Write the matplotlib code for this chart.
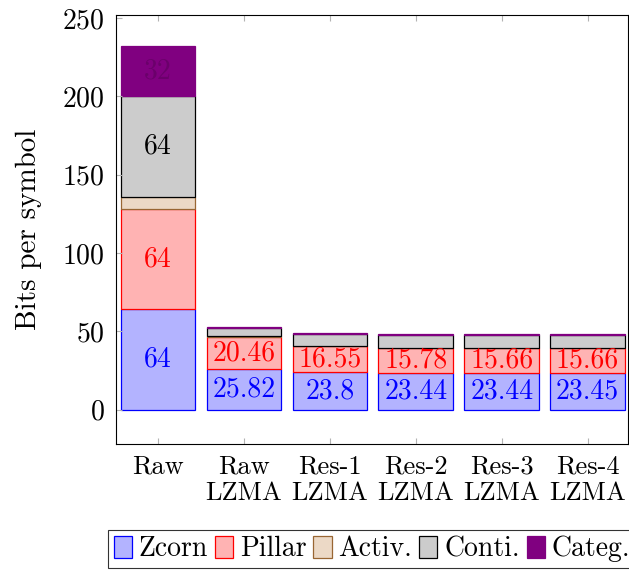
import numpy as np
import matplotlib
matplotlib.use("Agg")
import matplotlib.pyplot as plt

plt.rcParams['font.family'] = 'cmr10'
plt.rcParams['mathtext.fontset'] = 'cm'
plt.rcParams['axes.formatter.use_mathtext'] = True

# data
categories = ['Raw', 'Raw\nLZMA', 'Res-1\nLZMA', 'Res-2\nLZMA', 'Res-3\nLZMA', 'Res-4\nLZMA']
zcorn = [64, 25.82, 23.8, 23.44, 23.44, 23.45]
pillar = [64, 20.46, 16.55, 15.78, 15.66, 15.66]
activ = [8, 0.4, 0.2, 0.2, 0.2, 0.2]
conti = [64, 5.6, 7.8, 8.1, 8.1, 8.1]
categ = [32, 0.5, 0.6, 0.6, 0.6, 0.6]

series = [
    ('Zcorn', zcorn, (0.7, 0.7, 1.0), 'blue', 'blue', 'all'),
    ('Pillar', pillar, (1.0, 0.7, 0.7), 'red', 'red', 'all'),
    ('Activ.', activ, (0.925, 0.85, 0.775), (0.6, 0.4, 0.2), None, None),
    ('Conti.', conti, (0.8, 0.8, 0.8), 'black', 'black', 'first'),
    ('Categ.', categ, (0.5, 0.0, 0.5), (0.5, 0.0, 0.5), (0.42, 0.0, 0.42), 'first'),
]

fs = 20

fig = plt.figure(figsize=(6.29, 5.74), dpi=100)
ax = fig.add_axes([0.1844, 0.2265, 0.814, 0.7474])

x = np.arange(len(categories))
bottom = np.zeros(len(categories))
handles = []
for name, vals, face, edge, tcol, which in series:
    vals = np.array(vals, dtype=float)
    bars = ax.bar(x, vals, width=0.87, bottom=bottom, color=face, edgecolor=edge,
                  linewidth=0.9, label=name)
    handles.append(bars)
    if which is not None:
        for i in range(len(x)):
            if which == 'first' and i > 0:
                continue
            ax.text(x[i], bottom[i] + vals[i] / 2, f'{vals[i]:g}', ha='center', va='center',
                    color=tcol, fontsize=fs)
    bottom += vals

ax.set_xlim(-0.49, 5.47)
ax.set_ylim(-22, 252)
ax.set_yticks([0, 50, 100, 150, 200, 250])
ax.set_xticks(x)
ax.set_xticklabels(categories, fontsize=fs - 1, linespacing=1.15)
ax.tick_params(axis='y', labelsize=fs, direction='in', length=4, color='0.7', pad=8)
ax.tick_params(axis='x', direction='in', length=4, color='0.7', top=True, pad=8)
ax.set_ylabel('Bits per symbol', fontsize=fs + 1)
ax.yaxis.set_label_coords(-0.145, 0.5)

leg = fig.legend(handles=handles, loc='upper left', bbox_to_anchor=(108 / 629, 1 - 530 / 574),
                 ncol=5, fontsize=fs, frameon=True, fancybox=False, handlelength=0.65,
                 handleheight=0.85, handletextpad=0.25, columnspacing=0.25, borderpad=0.2,
                 borderaxespad=0)
leg.get_frame().set_edgecolor('black')
leg.get_frame().set_linewidth(0.8)

fig.savefig('out.png', dpi=100)
